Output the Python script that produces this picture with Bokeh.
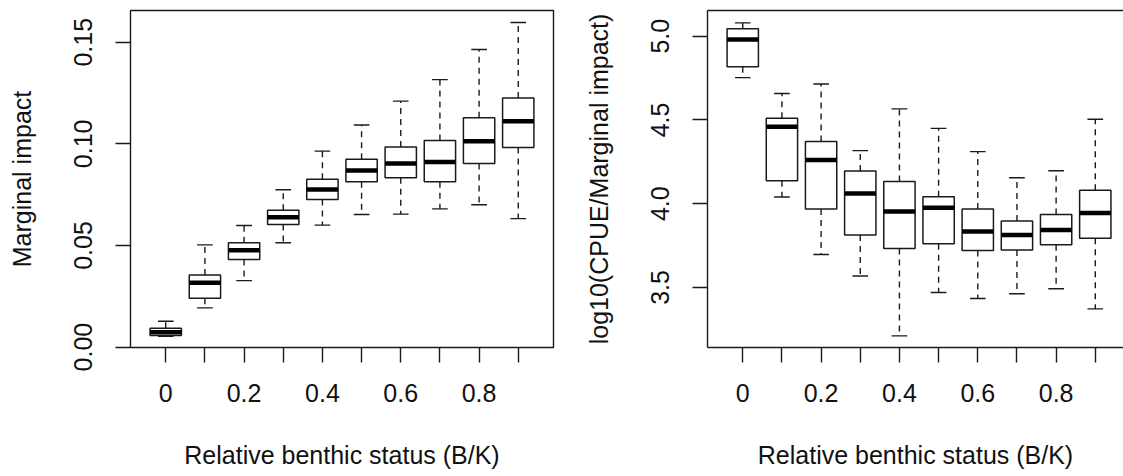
from bokeh.plotting import figure
from bokeh.models import FixedTicker, LinearAxis, Range1d, ColumnDataSource, NumeralTickFormatter
from bokeh.layouts import row
from bokeh.embed import file_html
from bokeh.resources import INLINE

# ---- data ----
status = ["0", "0.1", "0.2", "0.3", "0.4", "0.5", "0.6", "0.7", "0.8", "0.9"]
status_tick_labels = ["0", "", "0.2", "", "0.4", "", "0.6", "", "0.8", ""]

# Marginal impact
mi_upper = [0.0127, 0.0503, 0.0598, 0.0774, 0.0964, 0.1093, 0.1210, 0.1316, 0.1464, 0.1597]
mi_q3    = [0.0093, 0.0355, 0.0513, 0.0673, 0.0826, 0.0924, 0.0985, 0.1016, 0.1128, 0.1226]
mi_med   = [0.0073, 0.0317, 0.0477, 0.0639, 0.0775, 0.0869, 0.0903, 0.0911, 0.1013, 0.1111]
mi_q1    = [0.0057, 0.0240, 0.0431, 0.0603, 0.0726, 0.0814, 0.0833, 0.0814, 0.0903, 0.0982]
mi_lower = [0.0053, 0.0193, 0.0327, 0.0513, 0.0600, 0.0652, 0.0654, 0.0680, 0.0700, 0.0632]
mi_ticks = [0.00, 0.05, 0.10, 0.15]

# log10(CPUE / Marginal impact)
lr_upper = [5.080, 4.658, 4.715, 4.317, 4.566, 4.450, 4.311, 4.155, 4.197, 4.504]
lr_q3    = [5.044, 4.510, 4.371, 4.195, 4.132, 4.042, 3.969, 3.897, 3.935, 4.080]
lr_med   = [4.980, 4.460, 4.261, 4.061, 3.954, 3.976, 3.834, 3.813, 3.843, 3.944]
lr_q1    = [4.817, 4.137, 3.968, 3.813, 3.733, 3.761, 3.721, 3.724, 3.755, 3.793]
lr_lower = [4.753, 4.040, 3.697, 3.568, 3.211, 3.470, 3.434, 3.462, 3.492, 3.372]
lr_ticks = [3.5, 4.0, 4.5, 5.0]

FONT = "Liberation Sans"
FS = "25px"
LC = "#1a1a1a"
BOXW = 0.8
STAPLEW = 0.4
H = 476


def style_axis(ax, label, label_standoff, title_standoff):
    ax.axis_label = label
    ax.axis_label_text_font = FONT
    ax.axis_label_text_font_size = FS
    ax.axis_label_text_font_style = "normal"
    ax.axis_label_text_color = "#111111"
    ax.major_label_text_font = FONT
    ax.major_label_text_font_size = FS
    ax.major_label_text_color = "#111111"
    ax.major_tick_out = 15
    ax.major_tick_in = 0
    ax.major_tick_line_width = 1.4
    ax.major_tick_line_color = LC
    ax.minor_tick_line_color = None
    ax.major_label_standoff = label_standoff
    ax.axis_label_standoff = title_standoff


def panel(width, border_left, border_right, x_end, y_start, y_end, yticks, yfmt, ylabel,
          lower, q1, med, q3, upper, closed):
    pos = list(range(1, len(status) + 1))
    src = ColumnDataSource(dict(
        x=pos, lower=lower, q1=q1, med=med, q3=q3, upper=upper,
        left=[v - BOXW / 2 for v in pos], right=[v + BOXW / 2 for v in pos],
        sl=[v - STAPLEW / 2 for v in pos], sr=[v + STAPLEW / 2 for v in pos],
    ))
    p = figure(width=width, height=H, x_range=Range1d(0.1, x_end),
               y_range=Range1d(y_start, y_end), output_backend="svg",
               toolbar_location=None, min_border_left=border_left,
               min_border_right=border_right, min_border_top=10, min_border_bottom=129)
    p.grid.visible = False
    p.background_fill_color = "white"
    p.border_fill_color = "white"

    # whiskers
    p.segment(x0="x", y0="q3", x1="x", y1="upper", source=src, line_color=LC,
              line_width=1.4, line_dash="6 5")
    p.segment(x0="x", y0="q1", x1="x", y1="lower", source=src, line_color=LC,
              line_width=1.4, line_dash="6 5")
    # staples
    p.segment(x0="sl", y0="upper", x1="sr", y1="upper", source=src, line_color=LC, line_width=1.4)
    p.segment(x0="sl", y0="lower", x1="sr", y1="lower", source=src, line_color=LC, line_width=1.4)
    # boxes
    p.quad(left="left", right="right", bottom="q1", top="q3", source=src,
           fill_color="white", line_color=LC, line_width=1.5)
    # medians
    p.segment(x0="left", y0="med", x1="right", y1="med", source=src, line_color="black",
              line_width=4.5, line_cap="butt")

    xa = p.xaxis[0]
    xa.ticker = FixedTicker(ticks=pos)
    xa.major_label_overrides = {v: lab for v, lab in zip(pos, status_tick_labels)}
    style_axis(xa, "Relative benthic status (B/K)", 21, 36)

    ya = p.yaxis[0]
    ya.ticker = FixedTicker(ticks=yticks)
    ya.formatter = NumeralTickFormatter(format=yfmt)
    ya.major_label_orientation = "vertical"
    style_axis(ya, ylabel, 23, 36)

    if closed:
        p.outline_line_color = LC
        p.outline_line_width = 1.4
        p.outline_line_alpha = 1.0
        xa.axis_line_color = None
        ya.axis_line_color = None
    else:
        p.outline_line_color = None
        xa.axis_line_color = LC
        xa.axis_line_width = 1.4
        ya.axis_line_color = LC
        ya.axis_line_width = 1.4
        top = LinearAxis(ticker=FixedTicker(ticks=[]), axis_line_color=LC, axis_line_width=1.4,
                         major_tick_line_color=None, minor_tick_line_color=None,
                         major_label_text_font_size="0px", major_label_standoff=0,
                         major_tick_out=0, major_tick_in=0)
        p.add_layout(top, "above")
    return p


p1 = panel(568, 130, 15, 10.9, -0.0002, 0.1656, mi_ticks, "0.00", "Marginal impact",
           mi_lower, mi_q1, mi_med, mi_q3, mi_upper, True)
p2 = panel(555, 139, 0, 0.1 + 416 / 39.17, 3.1414, 5.1536, lr_ticks, "0.0",
           "log10(CPUE/Marginal impact)",
           lr_lower, lr_q1, lr_med, lr_q3, lr_upper, False)

layout = row(p1, p2)
open("out.html", "w").write(file_html(layout, INLINE))
